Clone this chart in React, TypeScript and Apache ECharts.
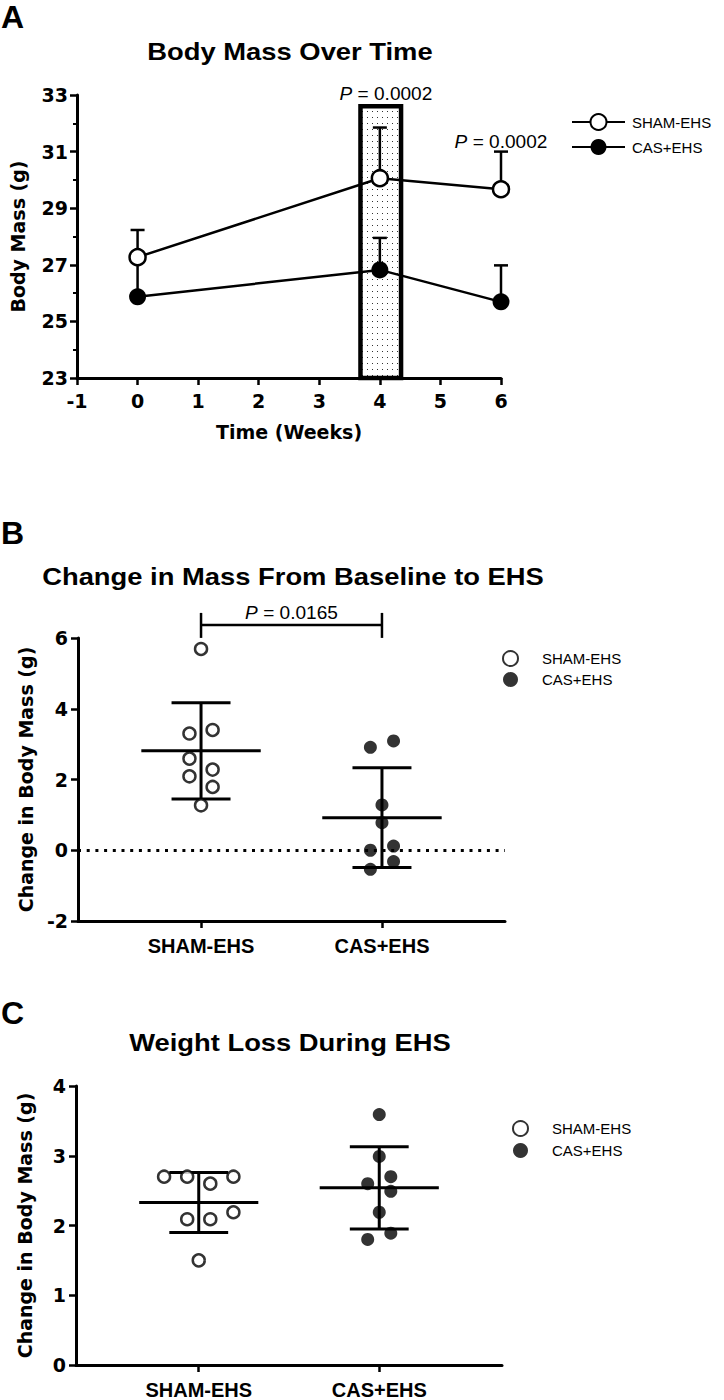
import React, { useEffect, useRef } from "react";
import * as echarts from "echarts";

// ---------- Panel A data ----------
const weeks = [0, 4, 6];
const xTickWeeks = [-1, 6];
const shamMass = [27.27, 30.06, 29.67];
const shamMassSD = [0.96, 1.79, 1.33];
const casMass = [25.87, 26.82, 25.69];
const casMassSD = [1.3, 1.13, 1.29];
const ehsWindowWeeks = [3.68, 4.35];
const ehsWindowMass = [23, 32.6];
const massPValues = ["0.0002", "0.0002"];
const massPWeeks = [4.1, 6];
const massPLevels = [32.72, 31.05];
const massYRange = [23, 33];

// ---------- Panel B data ----------
const groups = ["SHAM-EHS", "CAS+EHS"];
const changeSham = [5.69, 3.4, 3.3, 2.59, 2.28, 2.09, 1.79, 1.27];
const changeShamJitter = [0, 1, -1, -1, 1, -1, 1, 0];
const changeCas = [3.09, 2.91, 1.28, 0.78, 0.12, 0.0, -0.32, -0.54];
const changeCasJitter = [1, -1, 0, 0, 1, -1, 1, -1];
const changeMean = [2.81, 0.92];
const changeSD = [1.36, 1.41];
const changePValue = "0.0165";
const changeBracketLevel = 6.37;
const changeYRange = [-2, 6];

// ---------- Panel C data ----------
const lossSham = [2.7, 2.7, 2.7, 2.6, 2.19, 2.09, 2.09, 1.5];
const lossShamJitter = [-3, -1, 3, 1, 3, -1, 1, 0];
const lossCas = [3.59, 2.99, 2.7, 2.6, 2.49, 2.19, 1.89, 1.8];
const lossCasJitter = [0, 0, 1, -1, 1, 0, 1, -1];
const lossMean = [2.33, 2.54];
const lossSD = [0.43, 0.59];
const lossYRange = [0, 4];

// ---------- style constants ----------
const FONT = "'Liberation Sans', Arial, Helvetica, sans-serif";
const WIDE = "'DejaVu Sans', 'Liberation Sans', sans-serif";
const JITTER_STEP = 0.064;
const MEAN_HALF = 0.33;
const CAP_HALF = 0.163;
const GROUP_X = [0.32, 2.68];

export default function App() {
  const ref = useRef<HTMLDivElement>(null);

  useEffect(() => {
    if (!ref.current) return;
    const chart = echarts.init(ref.current, undefined, { renderer: "svg" });

    // dotted pattern for the EHS window
    const pc = document.createElement("canvas");
    pc.width = 5;
    pc.height = 6;
    const ctx = pc.getContext("2d");
    if (ctx) {
      ctx.fillStyle = "#ffffff";
      ctx.fillRect(0, 0, 5, 6);
      ctx.fillStyle = "#333333";
      ctx.fillRect(2, 3, 1, 1);
    }

    const axisLine = { show: true, onZero: false, lineStyle: { color: "#000", width: 3 } };
    const axisTick = { show: true, length: 7, lineStyle: { color: "#000", width: 2.5 } };
    const numLabel = { color: "#000", fontWeight: "bold" as const, fontFamily: WIDE, fontSize: 19 };
    const nameStyle = { color: "#000", fontWeight: "bold" as const, fontFamily: WIDE, fontSize: 19 };

    const errorBarItem = (params: any, api: any) => {
      const x = api.value(0);
      const m = api.value(1);
      const sd = api.value(2);
      const p0 = api.coord([x, m]);
      const p1 = api.coord([x, m + sd]);
      const st = { stroke: "#000", lineWidth: 2.5 };
      return {
        type: "group",
        children: [
          { type: "line", shape: { x1: p0[0], y1: p0[1], x2: p1[0], y2: p1[1] }, style: st },
          { type: "line", shape: { x1: p1[0] - 7, y1: p1[1], x2: p1[0] + 7, y2: p1[1] }, style: st },
        ],
      };
    };

    const meanSdItem = (params: any, api: any) => {
      const x = api.value(0);
      const m = api.value(1);
      const sd = api.value(2);
      const pl = api.coord([x - MEAN_HALF, m]);
      const pr = api.coord([x + MEAN_HALF, m]);
      const pt = api.coord([x, m + sd]);
      const pb = api.coord([x, m - sd]);
      const cl = api.coord([x - CAP_HALF, m])[0];
      const cr = api.coord([x + CAP_HALF, m])[0];
      const st = { stroke: "#000", lineWidth: 3 };
      return {
        type: "group",
        children: [
          { type: "line", shape: { x1: pl[0], y1: pl[1], x2: pr[0], y2: pr[1] }, style: st },
          { type: "line", shape: { x1: pt[0], y1: pt[1], x2: pb[0], y2: pb[1] }, style: st },
          { type: "line", shape: { x1: cl, y1: pt[1], x2: cr, y2: pt[1] }, style: st },
          { type: "line", shape: { x1: cl, y1: pb[1], x2: cr, y2: pb[1] }, style: st },
        ],
      };
    };

    const pText = (v: string) => "{i|P} = " + v;
    const pRich = { i: { fontStyle: "italic" as const, fontSize: 18, fontFamily: FONT, fill: "#000" } };

    const massPItem = (params: any, api: any) => {
      const p = api.coord([api.value(0), api.value(1)]);
      return {
        type: "text",
        x: p[0],
        y: p[1],
        scaleX: 1.06,
        style: {
          text: pText(massPValues[params.dataIndex]),
          rich: pRich,
          fontSize: 18,
          fontFamily: FONT,
          fill: "#000",
          align: "center",
          verticalAlign: "bottom",
        },
      };
    };

    const boxItem = (params: any, api: any) => {
      const a = api.coord([api.value(0), api.value(3)]);
      const b = api.coord([api.value(1), api.value(2)]);
      return {
        type: "rect",
        shape: { x: a[0], y: a[1], width: b[0] - a[0], height: b[1] - a[1] },
        style: { fill: { image: pc, repeat: "repeat" }, stroke: "#000", lineWidth: 4.5 },
      };
    };

    const bracketItem = (params: any, api: any) => {
      const a = api.coord([api.value(0), api.value(2)]);
      const b = api.coord([api.value(1), api.value(2)]);
      const st = { stroke: "#000", lineWidth: 2.5 };
      return {
        type: "group",
        children: [
          { type: "line", shape: { x1: a[0], y1: a[1], x2: b[0], y2: b[1] }, style: st },
          { type: "line", shape: { x1: a[0], y1: a[1] - 12, x2: a[0], y2: a[1] + 13 }, style: st },
          { type: "line", shape: { x1: b[0], y1: b[1] - 12, x2: b[0], y2: b[1] + 13 }, style: st },
          {
            type: "text",
            x: (a[0] + b[0]) / 2,
            y: a[1] - 3,
            scaleX: 1.06,
            style: {
              text: pText(changePValue),
              rich: pRich,
              fontSize: 18,
              fontFamily: FONT,
              fill: "#000",
              align: "center",
              verticalAlign: "bottom",
            },
          },
        ],
      };
    };

    const jitterPts = (vals: number[], jit: number[], g: number) =>
      vals.map((v, i) => [g + jit[i] * JITTER_STEP, v]);

    const groupXAxis = (gridIndex: number) => ({
      type: "value" as const,
      gridIndex,
      min: GROUP_X[0],
      max: GROUP_X[1],
      axisLine,
      axisTick: { ...axisTick, customValues: [1, 2] },
      axisLabel: {
        color: "#000",
        fontWeight: "bold" as const,
        fontFamily: FONT,
        fontSize: 20,
        margin: 15,
        customValues: [1, 2],
        formatter: (v: number) => groups[Math.round(v) - 1] ?? "",
      },
      splitLine: { show: false },
    });

    const openSym = { color: "#fff", borderColor: "#000", borderWidth: 2.5 };
    const fillSym = { color: "#000", borderColor: "#000", borderWidth: 0 };
    const stripName = (n: string) => n.replace(/ \(.\)$/, "");

    const titleText = (text: string, x: number, y: number) => ({
      type: "text",
      x,
      y,
      scaleX: 1.19,
      style: {
        text,
        fontSize: 23,
        fontWeight: "bold",
        fontFamily: FONT,
        fill: "#000",
        align: "center",
        verticalAlign: "middle",
      },
    });
    const panelLetter = (text: string, y: number) => ({
      type: "text",
      x: 1,
      y,
      style: {
        text,
        fontSize: 32,
        fontWeight: "bold",
        fontFamily: FONT,
        fill: "#000",
        align: "left",
        verticalAlign: "middle",
      },
    });

    const option: any = {
      animation: false,
      backgroundColor: "#fff",
      textStyle: { fontFamily: FONT },
      grid: [
        { left: 76, top: 95, width: 425, height: 283 },
        { left: 78, top: 638, width: 427, height: 283 },
        { left: 76, top: 1086, width: 426, height: 283 },
      ],
      xAxis: [
        {
          type: "value",
          gridIndex: 0,
          min: xTickWeeks[0],
          max: xTickWeeks[1],
          interval: 1,
          axisLine,
          axisTick,
          axisLabel: { ...numLabel, margin: 13 },
          splitLine: { show: false },
          name: "Time (Weeks)",
          nameLocation: "middle",
          nameGap: 44,
          nameTextStyle: nameStyle,
        },
        groupXAxis(1),
        groupXAxis(2),
      ],
      yAxis: [
        {
          type: "value",
          gridIndex: 0,
          min: massYRange[0],
          max: massYRange[1],
          interval: 2,
          axisLine,
          axisTick,
          minorTick: { show: true, splitNumber: 2, length: 4, lineStyle: { color: "#000", width: 2 } },
          axisLabel: { ...numLabel, margin: 9 },
          splitLine: { show: false },
          minorSplitLine: { show: false },
          name: "Body Mass (g)",
          nameLocation: "middle",
          nameGap: 50,
          nameTextStyle: nameStyle,
        },
        {
          type: "value",
          gridIndex: 1,
          min: changeYRange[0],
          max: changeYRange[1],
          interval: 2,
          axisLine,
          axisTick,
          axisLabel: { ...numLabel, margin: 10 },
          splitLine: { show: false },
          name: "Change in Body Mass (g)",
          nameLocation: "middle",
          nameGap: 42,
          nameTextStyle: nameStyle,
        },
        {
          type: "value",
          gridIndex: 2,
          min: lossYRange[0],
          max: lossYRange[1],
          interval: 1,
          axisLine,
          axisTick,
          axisLabel: { ...numLabel, margin: 10 },
          splitLine: { show: false },
          name: "Change in Body Mass (g)",
          nameLocation: "middle",
          nameGap: 42,
          nameTextStyle: nameStyle,
        },
      ],
      legend: [
        {
          data: ["SHAM-EHS", "CAS+EHS"],
          orient: "vertical",
          left: 566,
          top: 108,
          itemWidth: 53,
          itemHeight: 20,
          itemGap: 8,
          selectedMode: false,
          textStyle: { fontSize: 15, color: "#000", fontFamily: FONT, padding: [0, 0, 0, 2] },
        },
        {
          data: ["SHAM-EHS (B)", "CAS+EHS (B)"],
          formatter: stripName,
          orient: "vertical",
          left: 497,
          top: 645,
          itemWidth: 15,
          itemHeight: 15,
          itemGap: 5,
          selectedMode: false,
          textStyle: { fontSize: 15, color: "#000", fontFamily: FONT, padding: [0, 0, 0, 19] },
        },
        {
          data: ["SHAM-EHS (C)", "CAS+EHS (C)"],
          formatter: stripName,
          orient: "vertical",
          left: 507,
          top: 1115,
          itemWidth: 15,
          itemHeight: 15,
          itemGap: 6,
          selectedMode: false,
          textStyle: { fontSize: 15, color: "#000", fontFamily: FONT, padding: [0, 0, 0, 19] },
        },
      ],
      graphic: [
        panelLetter("A", 17),
        titleText("Body Mass Over Time", 290, 52),
        panelLetter("B", 533),
        titleText("Change in Mass From Baseline to EHS", 293, 577),
        panelLetter("C", 1013),
        titleText("Weight Loss During EHS", 290, 1043),
      ],
      series: [
        // ----- Panel A -----
        {
          type: "custom",
          xAxisIndex: 0,
          yAxisIndex: 0,
          z: 1,
          clip: false,
          silent: true,
          data: [[ehsWindowWeeks[0], ehsWindowWeeks[1], ehsWindowMass[0], ehsWindowMass[1]]],
          encode: { x: [0, 1], y: [2, 3] },
          renderItem: boxItem,
        },
        {
          type: "custom",
          xAxisIndex: 0,
          yAxisIndex: 0,
          z: 2,
          silent: true,
          data: weeks.map((w, i) => [w, shamMass[i], shamMassSD[i]]),
          renderItem: errorBarItem,
        },
        {
          type: "custom",
          xAxisIndex: 0,
          yAxisIndex: 0,
          z: 2,
          silent: true,
          data: weeks.map((w, i) => [w, casMass[i], casMassSD[i]]),
          renderItem: errorBarItem,
        },
        {
          name: "SHAM-EHS",
          type: "line",
          xAxisIndex: 0,
          yAxisIndex: 0,
          z: 4,
          data: weeks.map((w, i) => [w, shamMass[i]]),
          symbol: "circle",
          symbolSize: 16,
          itemStyle: openSym,
          lineStyle: { color: "#000", width: 2.5 },
        },
        {
          name: "CAS+EHS",
          type: "line",
          xAxisIndex: 0,
          yAxisIndex: 0,
          z: 3,
          data: weeks.map((w, i) => [w, casMass[i]]),
          symbol: "circle",
          symbolSize: 17,
          itemStyle: fillSym,
          lineStyle: { color: "#000", width: 2.5 },
        },
        {
          type: "custom",
          xAxisIndex: 0,
          yAxisIndex: 0,
          z: 5,
          clip: false,
          silent: true,
          data: massPWeeks.map((w, i) => [w, massPLevels[i]]),
          renderItem: massPItem,
        },
        // ----- Panel B -----
        {
          type: "custom",
          xAxisIndex: 1,
          yAxisIndex: 1,
          z: 2,
          silent: true,
          data: [1, 2].map((g, i) => [g, changeMean[i], changeSD[i]]),
          renderItem: meanSdItem,
        },
        {
          name: "SHAM-EHS (B)",
          type: "scatter",
          xAxisIndex: 1,
          yAxisIndex: 1,
          z: 3,
          symbol: "circle",
          symbolSize: 12,
          itemStyle: openSym,
          data: jitterPts(changeSham, changeShamJitter, 1),
        },
        {
          name: "CAS+EHS (B)",
          type: "scatter",
          xAxisIndex: 1,
          yAxisIndex: 1,
          z: 3,
          symbol: "circle",
          symbolSize: 13,
          itemStyle: fillSym,
          data: jitterPts(changeCas, changeCasJitter, 2),
          markLine: {
            silent: true,
            symbol: ["none", "none"],
            label: { show: false },
            lineStyle: { color: "#000", type: [3, 5.7], width: 3 },
            data: [{ yAxis: 0 }],
            z: 1,
          },
        },
        {
          type: "custom",
          xAxisIndex: 1,
          yAxisIndex: 1,
          z: 4,
          clip: false,
          silent: true,
          data: [[1, 2, changeBracketLevel]],
          renderItem: bracketItem,
        },
        // ----- Panel C -----
        {
          type: "custom",
          xAxisIndex: 2,
          yAxisIndex: 2,
          z: 2,
          silent: true,
          data: [1, 2].map((g, i) => [g, lossMean[i], lossSD[i]]),
          renderItem: meanSdItem,
        },
        {
          name: "SHAM-EHS (C)",
          type: "scatter",
          xAxisIndex: 2,
          yAxisIndex: 2,
          z: 3,
          symbol: "circle",
          symbolSize: 12,
          itemStyle: openSym,
          data: jitterPts(lossSham, lossShamJitter, 1),
        },
        {
          name: "CAS+EHS (C)",
          type: "scatter",
          xAxisIndex: 2,
          yAxisIndex: 2,
          z: 3,
          symbol: "circle",
          symbolSize: 13,
          itemStyle: fillSym,
          data: jitterPts(lossCas, lossCasJitter, 2),
        },
      ],
    };

    chart.setOption(option);
    return () => {
      chart.dispose();
    };
  }, []);

  return (
    <div
      ref={ref}
      style={{ position: "absolute", left: 0, top: 0, width: 724, height: 1400, background: "#fff" }}
    />
  );
}
